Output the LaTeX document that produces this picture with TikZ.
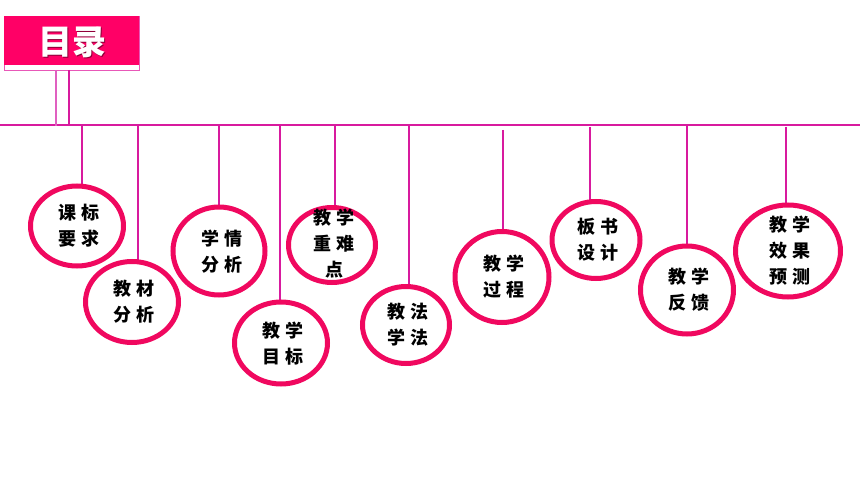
\documentclass[tikz,border=0pt]{standalone}
\usepackage{fontspec}
\usetikzlibrary{shapes.geometric,backgrounds}
\newfontfamily\cjk[LetterSpace=25]{Noto Sans CJK SC}
\newfontfamily\cjktitle{Noto Sans CJK SC}
\definecolor{rim}{HTML}{F0085F}
\definecolor{titlepink}{HTML}{FF0066}
\definecolor{titleedge}{HTML}{E858B8}
\definecolor{wire}{HTML}{D81A9E}
\definecolor{wirelight}{HTML}{E060C0}
\begin{document}
\begin{tikzpicture}[x=1pt,y=-1pt,
  ball/.style={ellipse, draw=rim, line width=5pt, fill=white, inner sep=0pt},
  balltext/.style={font=\cjk\bfseries\fontsize{18}{26}\selectfont, align=center, text=black},
  wireline/.style={draw=wire, line width=1.2pt}
]
\useasboundingbox (0,0) rectangle (860,484);
% title
\node[draw=titleedge, line width=0.8pt, minimum width=135pt, minimum height=54pt, anchor=north west, inner sep=0pt] (titlebox) at (4,16) {};
\fill[titlepink] (4,16) rectangle (139,65);
\node[font=\cjktitle\bfseries\fontsize{34}{34}\selectfont, text=black!45!titlepink] (titleshadow) at (73.5,43.5) {目录};
\node[font=\cjktitle\bfseries\fontsize{34}{34}\selectfont, text=white] (title) at (72,42) {目录};
% main bar
\coordinate (barL) at (0,125);
\coordinate (barR) at (860,125);
\draw[wireline] (barL) -- (barR);
\coordinate (t1) at (56,70); \coordinate (b1) at (56,126);
\coordinate (t2) at (69,70); \coordinate (b2) at (69,126);
\draw[draw=wirelight, line width=1.2pt] (t1) -- (b1);
\draw[wireline] (t2) -- (b2);
% ellipses: name, cx, cy, w, h, wire x, wire top
\newcommand{\ball}[7]{%
  \coordinate (top#1) at (#6,#7);
  \path (#2,#3) node[ball, minimum width=#4pt, minimum height=#5pt] (#1) {};
  \begin{scope}[on background layer]
    \draw[wireline] (top#1) -- (top#1 |- #1.center);
  \end{scope}
}
\ball{e1}{77}{226}{93}{80}{82}{125}
\ball{e2}{132}{302}{93}{81}{138}{125}
\ball{e3}{219}{251}{92}{88}{219}{126}
\ball{e4}{332}{245}{87}{75}{335}{126}
\ball{e5}{281}{343}{93}{82}{280}{126}
\ball{e6}{406}{325}{87}{77}{409}{126}
\ball{e7}{502}{277}{94}{91}{503}{130}
\ball{e8}{596}{240}{88}{77}{590}{127}
\ball{e9}{687}{290}{93}{88}{687}{126}
\ball{e10}{788}{251}{105}{92}{786}{127}
% texts
\node[balltext] (l1) at (79,226) {课标\\要求};
\node[balltext] (l2) at (134,302) {教材\\分析};
\node[balltext] (l3) at (222,252) {学情\\分析};
\node[balltext] (l4) at (334,244) {教学\\重难\\点};
\node[balltext] (l5) at (283,344) {教学\\目标};
\node[balltext] (l6) at (408,325) {教法\\学法};
\node[balltext] (l7) at (504,277) {教学\\过程};
\node[balltext] (l8) at (598,240) {板书\\设计};
\node[balltext] (l9) at (689,290) {教学\\反馈};
\node[balltext] (l10) at (790,251) {教学\\效果\\预测};
\end{tikzpicture}
\end{document}
